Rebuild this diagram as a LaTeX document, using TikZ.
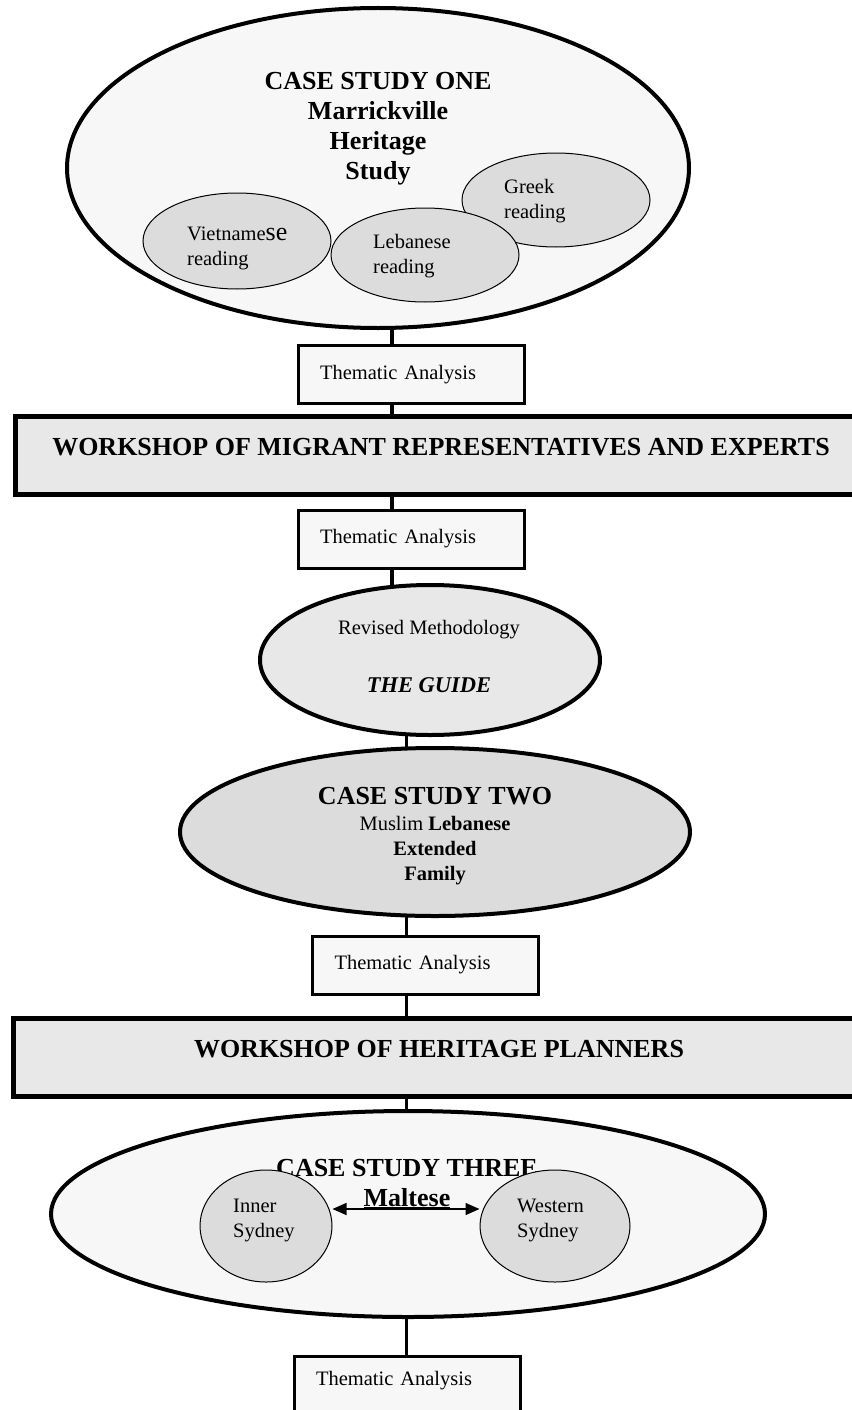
\documentclass[tikz,border=0pt]{standalone}
\usepackage{fontspec}
\setmainfont{Liberation Serif}
\usetikzlibrary{shapes.geometric,arrows.meta,backgrounds}
\definecolor{fond}{RGB}{247,247,247}
\definecolor{gris}{RGB}{220,220,220}
\definecolor{grismoyen}{RGB}{232,232,232}
\newcommand\tailletexte{\fontsize{20.5}{25}\selectfont}
\newcommand\tailletitre{\fontsize{26}{30}\selectfont\bfseries}
\begin{document}
\begin{tikzpicture}[x=1pt,y=-1pt]
		\tikzstyle{boite}=[draw,line width=3pt,fill=fond,minimum width=226pt,minimum height=58pt,text width=182pt,inner xsep=22pt,align=left,font=\tailletexte]
		\tikzstyle{atelier}=[draw,line width=5pt,fill=grismoyen,minimum width=852pt,minimum height=78pt,text height=18pt,text depth=18pt,font=\tailletitre]
		\tikzstyle{bulle}=[ellipse,draw,line width=4pt,inner sep=0pt]
		\tikzstyle{petite_bulle}=[ellipse,draw,line width=1pt,fill=gris,inner sep=0pt]
		\tikzstyle{etiquette}=[inner sep=0pt,font=\tailletexte,align=left,anchor=base west]
		\tikzstyle{titre}=[inner sep=0pt,font=\tailletitre,align=center,anchor=base]
		\tikzstyle{trait}=[line width=3.5pt]
		\tikzstyle{fleche}=[line width=1.5pt,{Triangle[length=14pt,width=12pt]}-{Triangle[length=14pt,width=12pt]}]
		\useasboundingbox (0,0) rectangle (851,1410);
		% case study one
		\node[bulle,fill=fond,minimum width=622pt,minimum height=320pt] (cs1) at (378,168) {};
		\node[titre] (tcs1) at (378,179) {CASE STUDY ONE\\Marrickville\\Heritage\\Study}; % base = derniere ligne
		\node[petite_bulle,minimum width=188pt,minimum height=96pt] (viet) at (237,241) {};
		\node[etiquette] (tviet) at (187,265) {Vietname{\fontsize{26}{25}\selectfont se}\\reading};
		\node[petite_bulle,minimum width=188pt,minimum height=94pt] (greek) at (556,200) {};
		\node[etiquette] (tgreek) at (504,218) {Greek\\reading};
		\node[petite_bulle,minimum width=188pt,minimum height=94pt] (leb) at (425,255) {}; % par-dessus greek
		\node[etiquette] (tleb) at (373,273) {Lebanese\\reading};
		\node[boite] (ta1) at (411,374.5) {Thematic Analysis};
		\node[atelier] (ws1) at (441,455) {WORKSHOP OF MIGRANT REPRESENTATIVES AND EXPERTS};
		\node[boite] (ta2) at (411,539) {Thematic Analysis};
		% methodologie
		\node[bulle,fill=grismoyen,minimum width=340pt,minimum height=150pt] (guide) at (430,660) {};
		\node[titre,font=\tailletexte] (tguide) at (429,692) {Revised Methodology\\[33pt]{\fontsize{22.5}{25}\selectfont\bfseries\itshape THE GUIDE}};
		% case study two
		\node[bulle,fill=gris,minimum width=510pt,minimum height=168pt] (cs2) at (435,832) {};
		\node[titre,font=\tailletexte] (tcs2) at (435,880) {{\tailletitre CASE STUDY TWO}\\[1pt]Muslim \textbf{Lebanese}\\\textbf{Extended}\\\textbf{Family}};
		\node[boite] (ta3) at (425.5,965) {Thematic Analysis};
		\node[atelier] (ws2) at (439,1057) {WORKSHOP OF HERITAGE PLANNERS};
		% case study three
		\node[bulle,fill=fond,minimum width=714pt,minimum height=206pt] (cs3) at (408,1214) {};
		\node[titre] (tcs3) at (407,1176) {CASE STUDY THREE};
		\node[petite_bulle,minimum width=132pt,minimum height=112pt] (inner) at (266,1226) {}; % gauche
		\node[petite_bulle,minimum width=150pt,minimum height=112pt] (western) at (555,1226) {}; % droite
		\node[etiquette] (tinner) at (233,1237) {Inner\\Sydney};
		\node[etiquette] (twestern) at (517,1237) {Western\\Sydney};
		\node[titre] (maltese) at (407,1206) {\underline{Maltese}};
		\coordinate (fl) at (407,1209);
		\draw[fleche] (inner.east |- fl) -- (western.west |- fl);
		\node[boite,text depth=14pt] (ta4) at (407,1385) {Thematic Analysis};
		% liaisons
		\coordinate (axe1) at (392,0);
		\coordinate (axe2) at (406.5,0);
		\begin{scope}[on background layer]
			\draw[trait] (axe1 |- cs1.center) -- (axe1 |- ta1.center);
			\draw[trait] (axe1 |- ta1.center) -- (axe1 |- ws1.center);
			\draw[trait] (axe1 |- ws1.center) -- (axe1 |- ta2.center);
			\draw[trait] (axe1 |- ta2.center) -- (axe1 |- guide.center);
			\draw[trait] (axe2 |- guide.center) -- (axe2 |- cs2.center);
			\draw[trait] (axe2 |- cs2.center) -- (axe2 |- ta3.center);
			\draw[trait] (axe2 |- ta3.center) -- (axe2 |- ws2.center);
			\draw[trait] (axe2 |- ws2.center) -- (axe2 |- cs3.center);
			\draw[trait] (axe2 |- cs3.center) -- (axe2 |- ta4.center);
		\end{scope}
	\end{tikzpicture}
\end{document}
